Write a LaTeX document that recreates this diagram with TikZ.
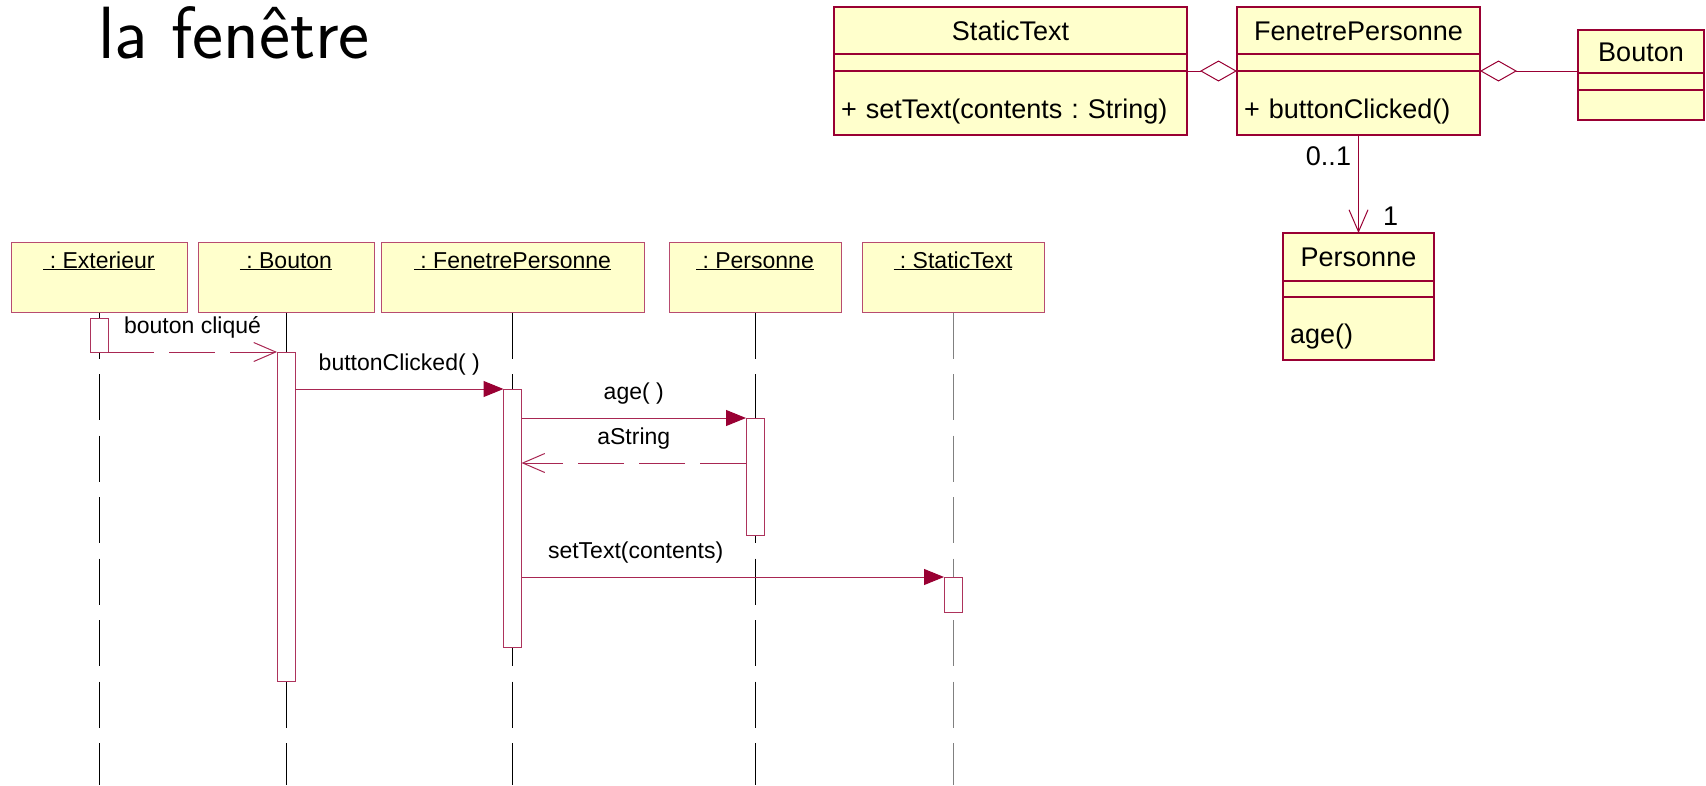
\documentclass[tikz,border=0pt]{standalone}
\usepackage{fontspec}
\setmainfont{Liberation Sans}
\usetikzlibrary{positioning,arrows.meta}
\definecolor{umlfill}{RGB}{255,255,204}
\definecolor{umlred}{RGB}{153,0,51}
\newcommand{\clsfont}{\fontsize{27pt}{32pt}\selectfont}
\newcommand{\seqfont}{\fontsize{23pt}{27pt}\selectfont}
\frenchspacing

\begin{document}
\begin{tikzpicture}[x=1pt, y=-1pt,
	clspart/.style = {shape=rectangle, draw=umlred, fill=umlfill, line width=1.3pt, inner sep=0pt, outer sep=0pt, font=\clsfont},
	clsname/.style = {clspart, minimum height=47pt, text height=19pt, text depth=0pt},
	clsattr/.style = {clspart, minimum height=17pt},
	clsops/.style = {clspart, minimum height=64pt, inner xsep=7pt, align=left, text height=30pt, text depth=0pt},
	head/.style = {shape=rectangle, draw=umlred!70, fill=umlfill, line width=1pt, minimum height=70pt, inner ysep=4pt, text height=22pt, text depth=40pt, font=\seqfont},
	act/.style = {shape=rectangle, draw=umlred!80, fill=white, line width=1pt, minimum width=18pt, inner sep=0pt, outer sep=0pt, anchor=north},
	lifeline/.style = {line width=1pt, dash pattern=on 46pt off 15.5pt},
	msg/.style = {draw=umlred!85, line width=1pt, -{Triangle[length=20pt, width=16pt, color=umlred]}},
	ret/.style = {draw=umlred!85, line width=1pt, dash pattern=on 46pt off 15pt, -{Straight Barb[length=22pt, width=19pt]}},
	lbl/.style = {midway, anchor=base, yshift=19pt, inner sep=0pt, font=\seqfont},
	agg/.style = {draw=umlred, line width=1pt, {Diamond[length=37pt, width=21pt, fill=white]}-},
	mult/.style = {inner sep=0pt, font=\clsfont}]
	\useasboundingbox (0,0) rectangle (1706,785);

	\node[anchor=base west, inner sep=0pt, font=\sffamily\fontsize{74pt}{80pt}\selectfont] (title) at (98,58) {la fenêtre};

	% class diagram
	\node[clsname, minimum width=353pt] (stname) at (1010.5,30.5) {StaticText};
	\node[clsattr, minimum width=353pt, below=0pt of stname] (statt) {};
	\node[clsops, text width=339pt, below=0pt of statt] (stops) {+ setText(contents : String)};

	\node[clsname, minimum width=243pt, right=50pt of stname] (fpname) {FenetrePersonne};
	\node[clsattr, minimum width=243pt, below=0pt of fpname] (fpatt) {};
	\node[clsops, text width=229pt, below=0pt of fpatt] (fpops) {+ buttonClicked()};

	\node[clsname, minimum width=126pt, minimum height=43pt] (boname) at (1641,51.5) {Bouton};
	\node[clsattr, minimum width=126pt, below=0pt of boname] (boatt) {};
	\node[clsops, text width=112pt, minimum height=23pt, below=0pt of boatt] (boops) {};

	\node[clsname, minimum width=151pt, minimum height=48pt, below=98pt of fpops] (pename) {Personne};
	\node[clsattr, minimum width=151pt, minimum height=16pt, below=0pt of pename] (peatt) {};
	\node[clsops, text width=137pt, minimum height=63pt, below=0pt of peatt] (peops) {age()};

	\draw[agg] (fpops.north west) -- (stops.north east);
	\draw[agg] (fpops.north east) -- (fpops.north east -| boname.west);
	\draw[draw=umlred, line width=1pt, -{Straight Barb[length=22pt, width=19pt]}] (fpops.south) -- (pename.north)
		node[mult, at start, anchor=base east, xshift=-7pt, yshift=-30pt] {0..1}
		node[mult, at end, anchor=base west, xshift=24pt, yshift=8pt] {1};

	% sequence diagram
	\node[head, minimum width=176pt] (ext) at (99,277) {\underline{\ : Exterieur}};
	\node[head, minimum width=176pt, right=10pt of ext] (bou) {\underline{\ : Bouton}};
	\node[head, minimum width=263pt, right=6pt of bou] (fen) {\underline{\ : FenetrePersonne}};
	\node[head, minimum width=172pt, right=24pt of fen] (per) {\underline{\ : Personne}};
	\node[head, minimum width=182pt, right=20pt of per] (stx) {\underline{\ : StaticText}};

	\foreach \n in {ext,bou,fen,per}
		\draw[lifeline] (\n.south) -- (\n.south |- 0,785);
	\draw[lifeline, gray] (stx.south) -- (stx.south |- 0,785);

	\node[act, minimum height=34pt] (aext) at (ext.south |- 0,318) {};
	\node[act, minimum height=329pt] (abou) at (bou.south |- 0,352) {};
	\node[act, minimum height=258pt] (afen) at (fen.south |- 0,389) {};
	\node[act, minimum height=117pt] (aper) at (per.south |- 0,418) {};
	\node[act, minimum height=35pt] (astx) at (stx.south |- 0,577) {};

	\draw[ret] (aext.south east) -- node[lbl] {bouton cliqué} (abou.north west);
	\draw[msg] (abou.east |- afen.north) -- node[lbl] {buttonClicked( )} (afen.north west);
	\draw[msg] (afen.east |- aper.north) -- node[lbl] {age( )} (aper.north west);
	\draw[ret] (aper.west |- 0,463) -- node[lbl] {aString} (afen.east |- 0,463);
	\draw[msg] (afen.east |- astx.north) -- node[lbl, pos=.27] {setText(contents)} (astx.north west);
\end{tikzpicture}
\end{document}
